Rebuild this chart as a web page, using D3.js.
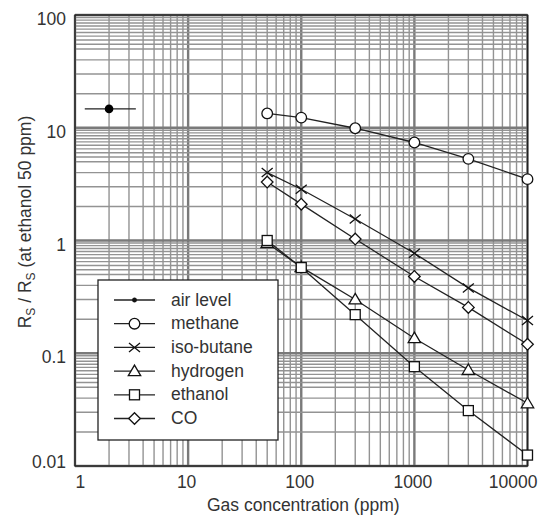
<!DOCTYPE html>
<html>
<head>
<meta charset="utf-8">
<script src="https://cdn.jsdelivr.net/npm/d3@7"></script>
<style>
  html, body { margin: 0; padding: 0; background: #fff; }
  svg { display: block; font-family: "Liberation Sans", Arial, sans-serif; }
</style>
</head>
<body>
<svg id="chart" width="541" height="527"></svg>
<script>
// Sensor sensitivity: Rs/Rs(ethanol 50 ppm) vs gas concentration, log-log
const concentrations = [50, 100, 300, 1000, 3000, 10000];
const methane   = [13.4, 12.3, 9.9, 7.4, 5.3, 3.5];
const isoButane = [4.0, 2.85, 1.55, 0.77, 0.38, 0.195];
const hydrogen  = [0.95, 0.58, 0.30, 0.136, 0.071, 0.036];
const ethanol   = [1.0, 0.575, 0.22, 0.076, 0.031, 0.0125];
const co        = [3.3, 2.1, 1.03, 0.48, 0.255, 0.12];

const airLevelPoint = [2, 14.7];     // [ppm, ratio]
const airLevelSpan  = [1.22, 3.45];  // horizontal extent of the air-level bar

const seriesNames = ["methane", "iso-butane", "hydrogen", "ethanol", "CO"];
const seriesValues = [methane, isoButane, hydrogen, ethanol, co];
const seriesMarkers = ["circle", "cross", "triangle", "square", "diamond"];

const legendLabels = ["air level", "methane", "iso-butane", "hydrogen", "ethanol", "CO"];
const legendMarkers = ["dot", "circle", "cross", "triangle", "square", "diamond"];

const xTickValues = [1, 10, 100, 1000, 10000];
const xTickLabels = ["1", "10", "100", "1000", "10000"];
const yTickValues = [0.01, 0.1, 1, 10, 100];
const yTickLabels = ["0.01", "0.1", "1", "10", "100"];

const xGridSteps = [1, 2, 3, 4, 5, 6, 7, 8, 9];
const yGridSteps = [1, 2, 3, 4, 5, 5.5, 6, 6.5, 7, 7.5, 8, 8.5, 9, 9.5];

const xTitle = "Gas concentration (ppm)";
const textColor = "#333";

const svg = d3.select("#chart");
const plot = { left: 75, right: 527.5, top: 15, bottom: 466 };

const x = d3.scaleLog().domain([1, 10000]).range([plot.left, plot.right]);
const y = d3.scaleLog().domain([0.01, 100]).range([plot.bottom, plot.top]);

// ---- grid ----
const grid = svg.append("g");
function gridValues(domain, steps) {
  const out = [];
  for (let d = domain[0]; d < domain[1] * 0.999; d *= 10) {
    steps.forEach(s => out.push({ v: d * s, major: s === 1 }));
  }
  out.push({ v: domain[1], major: true });
  return out;
}
gridValues(x.domain(), xGridSteps).forEach(g => {
  grid.append("line")
    .attr("x1", x(g.v)).attr("x2", x(g.v))
    .attr("y1", plot.top).attr("y2", plot.bottom)
    .attr("stroke", g.major ? "#7a7a7a" : "#939393")
    .attr("stroke-width", g.major ? 2.4 : 1.4);
});
gridValues(y.domain(), yGridSteps).forEach(g => {
  grid.append("line")
    .attr("y1", y(g.v)).attr("y2", y(g.v))
    .attr("x1", plot.left).attr("x2", plot.right)
    .attr("stroke", g.major ? "#7a7a7a" : "#939393")
    .attr("stroke-width", g.major ? 2.4 : 1.4);
});

// ---- frame ----
svg.append("rect")
  .attr("x", plot.left).attr("y", plot.top)
  .attr("width", plot.right - plot.left).attr("height", plot.bottom - plot.top)
  .attr("fill", "none").attr("stroke", "#222").attr("stroke-width", 1.4);

// ---- axes (labels only, no tick marks) ----
const xAxis = d3.axisBottom(x).tickValues(xTickValues)
  .tickFormat((d, i) => xTickLabels[i]).tickSize(0).tickPadding(0);
const gx = svg.append("g").attr("transform", `translate(0,${plot.bottom})`).call(xAxis);
gx.select(".domain").remove();
gx.selectAll("text")
  .attr("y", 0).attr("dy", 0)
  .attr("font-size", 17.5).attr("fill", textColor)
  .attr("font-family", "Liberation Sans, Arial, sans-serif")
  .attr("transform", null)
  .each(function (d) {
    const t = d3.select(this);
    const w = this.getComputedTextLength();
    let cx = x(d) - 2;
    if (cx - w / 2 < plot.left) cx = plot.left + w / 2;
    if (cx + w / 2 > 537) cx = 537 - w / 2;
    t.attr("x", cx - x(d)).attr("y", 22);
  });

const yAxis = d3.axisLeft(y).tickValues(yTickValues)
  .tickFormat((d, i) => yTickLabels[i]).tickSize(0).tickPadding(0);
const gy = svg.append("g").attr("transform", `translate(${plot.left},0)`).call(yAxis);
gy.select(".domain").remove();
gy.selectAll("text")
  .attr("font-size", 17.5).attr("fill", textColor)
  .attr("font-family", "Liberation Sans, Arial, sans-serif")
  .attr("text-anchor", "end")
  .attr("x", -9).attr("dy", 0)
  .each(function (d) {
    const base = Math.min(y(d) + 9.5, plot.bottom + 1);
    d3.select(this).attr("y", base - y(d));
  });

// ---- titles ----
svg.append("text")
  .attr("x", (plot.left + plot.right) / 2 + 2).attr("y", 511)
  .attr("text-anchor", "middle").attr("font-size", 17.5).attr("fill", textColor)
  .text(xTitle);

const yt = svg.append("text")
  .attr("transform", "translate(31,222) rotate(-90)")
  .attr("text-anchor", "middle").attr("font-size", 17.5).attr("fill", textColor);
yt.append("tspan").text("R");
yt.append("tspan").attr("font-size", 12).attr("dy", 4).text("S");
yt.append("tspan").attr("dy", -4).text(" / R");
yt.append("tspan").attr("font-size", 12).attr("dy", 4).text("S");
yt.append("tspan").attr("dy", -4).text(" (at ethanol 50 ppm)");

// ---- markers ----
function drawMarker(g, type, cx, cy) {
  const st = { stroke: "#111", "stroke-width": 1.3, fill: "#fff" };
  let m;
  if (type === "circle") {
    m = g.append("circle").attr("cx", cx).attr("cy", cy).attr("r", 5.3);
  } else if (type === "square") {
    m = g.append("rect").attr("x", cx - 5).attr("y", cy - 5).attr("width", 10).attr("height", 10);
  } else if (type === "diamond") {
    m = g.append("path").attr("d", `M${cx},${cy - 5.8}L${cx + 5.8},${cy}L${cx},${cy + 5.8}L${cx - 5.8},${cy}Z`);
  } else if (type === "triangle") {
    m = g.append("path").attr("d", `M${cx},${cy - 6}L${cx + 6.2},${cy + 4.5}L${cx - 6.2},${cy + 4.5}Z`);
  } else if (type === "cross") {
    m = g.append("path").attr("d", `M${cx - 5.5},${cy - 4.5}L${cx + 5.5},${cy + 4.5}M${cx - 5.5},${cy + 4.5}L${cx + 5.5},${cy - 4.5}`)
      .attr("fill", "none");
    st.fill = "none";
  } else if (type === "dot") {
    m = g.append("circle").attr("cx", cx).attr("cy", cy).attr("r", 2.2);
    st.fill = "#111"; st["stroke-width"] = 0.5;
  }
  Object.entries(st).forEach(([k, v]) => m.attr(k, v));
}

// ---- air level ----
const air = svg.append("g");
air.append("line")
  .attr("x1", x(airLevelSpan[0])).attr("x2", x(airLevelSpan[1]))
  .attr("y1", y(airLevelPoint[1])).attr("y2", y(airLevelPoint[1]))
  .attr("stroke", "#222").attr("stroke-width", 1.4);
air.append("circle")
  .attr("cx", x(airLevelPoint[0])).attr("cy", y(airLevelPoint[1]))
  .attr("r", 4.3).attr("fill", "#000");

// ---- series ----
const line = d3.line().x(d => x(d[0])).y(d => y(d[1]));
seriesValues.forEach((vals, i) => {
  const pts = concentrations.map((c, j) => [c, vals[j]]);
  svg.append("path").datum(pts).attr("d", line)
    .attr("fill", "none").attr("stroke", "#222").attr("stroke-width", 1.3);
});
seriesValues.forEach((vals, i) => {
  const g = svg.append("g");
  concentrations.forEach((c, j) => drawMarker(g, seriesMarkers[i], x(c), y(vals[j])));
});

// ---- legend ----
const legend = svg.append("g");
legend.append("rect")
  .attr("x", 98).attr("y", 280).attr("width", 180).attr("height", 160)
  .attr("fill", "#fff").attr("stroke", "#222").attr("stroke-width", 1.3);
legendLabels.forEach((lab, i) => {
  const ry = 300 + i * 23.7;
  legend.append("line").attr("x1", 114).attr("x2", 155).attr("y1", ry).attr("y2", ry)
    .attr("stroke", "#222").attr("stroke-width", 1.3);
  drawMarker(legend, legendMarkers[i], 134.5, ry);
  legend.append("text").attr("x", 171).attr("y", ry + 5.5)
    .attr("font-size", 17.5).attr("fill", textColor).text(lab);
});
</script>
</body>
</html>
